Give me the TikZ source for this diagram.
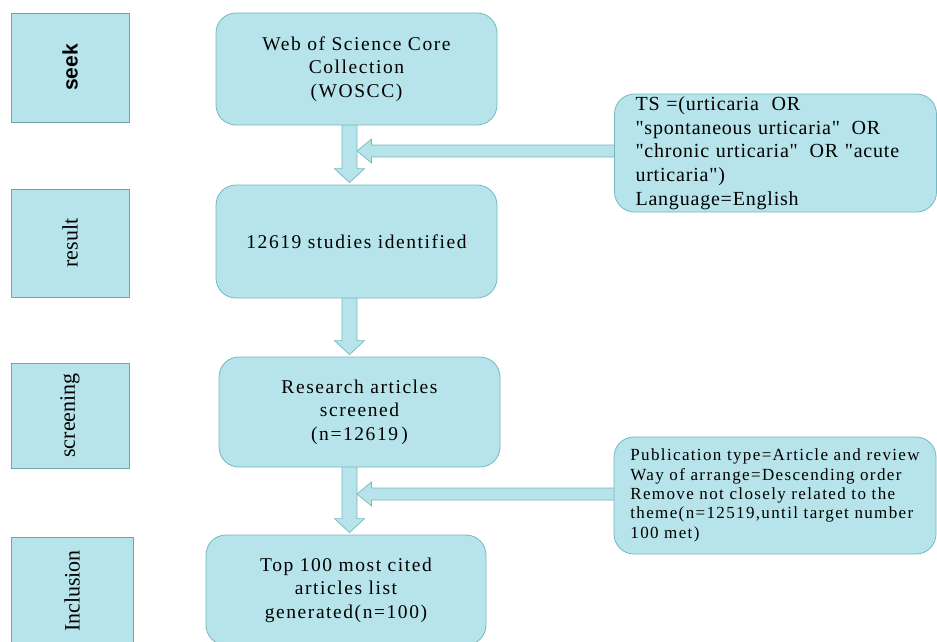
\documentclass[tikz,border=0pt]{standalone}
\usepackage{fontspec}
\setmainfont{Liberation Serif}
\newfontfamily\boxfont[LetterSpace=8]{Liberation Serif}
\newfontfamily\tsfont[LetterSpace=4]{Liberation Serif}
\newfontfamily\seekfont{Liberation Sans}
\usetikzlibrary{calc,backgrounds}
\definecolor{cfill}{RGB}{182,228,234}
\definecolor{cline}{RGB}{118,184,194}
\definecolor{cleft}{RGB}{112,165,172}
\newcommand\vblock[2]{%
  \draw[blockarrow] let \p1=(#1 -| ax), \p2=(#2 -| ax) in
   (\x1-7.5pt,\y1+2pt) -- (\x1+7.5pt,\y1+2pt) -- (\x1+7.5pt,\y2+16pt) -- (\x1+15pt,\y2+16pt)
   -- (\x1,\y2+2pt) -- (\x1-15pt,\y2+16pt) -- (\x1-7.5pt,\y2+16pt) -- cycle;}
\newcommand\hblock[2]{%
  \draw[blockarrow] let \p1=(#1 |- #2), \p2=(ax |- #2) in
   (\x1+2pt,\y1-6pt) -- (\x1+2pt,\y1+6pt) -- (\x2+22pt,\y1+6pt) -- (\x2+22pt,\y1+12pt)
   -- (\x2+7.5pt,\y1) -- (\x2+22pt,\y1-12pt) -- (\x2+22pt,\y1-6pt) -- cycle;}
\begin{document}
\begin{tikzpicture}[x=1pt,y=-1pt,
  mainbox/.style={draw=cline, fill=cfill, line width=0.8pt, rounded corners=20pt,
    minimum width=281pt, minimum height=112pt, align=center, inner sep=0pt,
    font=\boxfont\fontsize{19.5}{23.5}\selectfont},
  sidebox/.style={draw=cline, fill=cfill, line width=0.8pt, rounded corners=20pt,
    minimum width=322pt, minimum height=118pt, align=left, inner ysep=0pt},
  stagebox/.style={draw=cleft, fill=cfill, line width=0.8pt, inner sep=0pt},
  stagetext/.style={rotate=90, inner sep=0pt, font=\fontsize{22}{26}\selectfont},
  blockarrow/.style={draw=cline, fill=cfill, line width=0.7pt, line join=miter}]
\useasboundingbox (0,0) rectangle (937,642);

% stage boxes
\node[stagebox, minimum width=118pt, minimum height=109pt] (b1) at (70,67.5) {};
\node[stagebox, minimum width=118pt, minimum height=108pt] (b2) at (70,243) {};
\node[stagebox, minimum width=118pt, minimum height=105pt] (b3) at (70,415.5) {};
\node[stagebox, minimum width=122pt, minimum height=108pt] (b4) at (72,591) {};
\node[stagetext, font=\seekfont\bfseries\fontsize{21}{25}\selectfont] (l1) at (b1) {seek};
\node[stagetext] (l2) at (b2) {result};
\node[stagetext] (l3) at (b3) {screening};
\node[stagetext] (l4) at (b4) {Inclusion};

% main flow
\node[mainbox, minimum height=112pt] (w) at (356.5,69) {Web of Science Core\\Collection\\(WOSCC)};
\node[mainbox, minimum height=113pt] (r) at (356.5,241.5) {12619 studies identified};
\node[mainbox, minimum height=110pt] (s) at (359.5,412) {Research articles\\screened\\(n=12619\,)};
\node[mainbox, minimum width=280pt, minimum height=110pt] (t) at (346,590) {Top 100 most cited\\articles list\\generated(n=100)};

% side boxes
\node[sidebox, text width=280pt, inner xsep=21pt, minimum width=0pt,
  font=\tsfont\fontsize{20}{23.7}\selectfont] (ts) at (775.5,153)
  {TS =(urticaria\hspace{6pt} OR\\"spontaneous urticaria"\hspace{5pt} OR\\"chronic urticaria"\hspace{5pt} OR "acute\\urticaria")\\Language=English};
\node[sidebox, minimum height=117pt, inner xsep=0pt,
  font=\boxfont\fontsize{17}{19.3}\selectfont] (pb) at (775,495.5)
  {Publication type=Article and review\\Way of arrange=Descending order\\Remove not closely related to the\\theme(n=12519,until target number\\100 met)};

\coordinate (ax) at (349.5,0);
\coordinate (h1) at (0,151);
\coordinate (h2) at (0,494);

\begin{scope}[on background layer]
  \fill[white] (0,0) rectangle (937,642);
  \vblock{w.south}{r.north}
  \vblock{r.south}{s.north}
  \vblock{s.south}{t.north}
  \hblock{ts.west}{h1}
  \hblock{pb.west}{h2}
\end{scope}
\end{tikzpicture}
\end{document}
